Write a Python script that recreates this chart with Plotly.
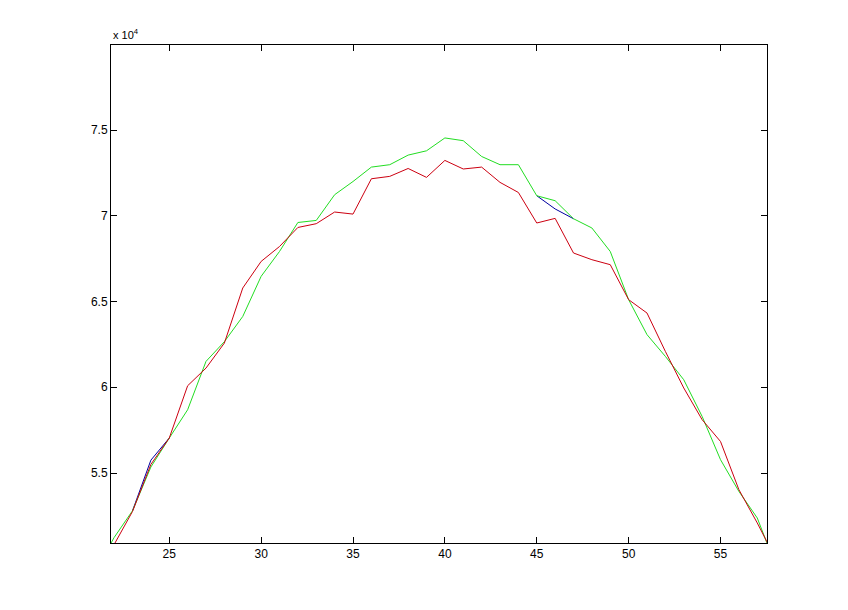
import plotly.graph_objects as go

x_vals = list(range(21, 59))

red_vals = [48900, 50810, 52760, 55500, 57040, 60090, 61120, 62580, 65790, 67340,
            68210, 69320, 69540, 70220, 70100, 72160, 72300, 72760, 72240, 73230,
            72730, 72840, 71950, 71360, 69580, 69850, 67830, 67440, 67150, 65110,
            64330, 62090, 59960, 58110, 56840, 54030, 52090, 50000]

green_vals = [49300, 51240, 52800, 55350, 57040, 58690, 61510, 62660, 64130, 66470,
              67920, 69610, 69730, 71230, 72000, 72840, 72980, 73540, 73790, 74540,
              74380, 73460, 72980, 72980, 71170, 70880, 69830, 69290, 67920, 65110,
              63070, 61800, 60440, 58300, 55780, 53930, 52380, 49600]

blue_x = [23, 24, 25, None, 45, 46, 47]
blue_vals = [52800, 55750, 57040, None, 71170, 70400, 69830]

y_tickvals = [55000, 60000, 65000, 70000, 75000]
y_ticktext = ["5.5", "6", "6.5", "7", "7.5"]
x_tickvals = [25, 30, 35, 40, 45, 50, 55]

fig = go.Figure()
fig.add_trace(go.Scatter(x=blue_x, y=blue_vals, mode="lines",
                         line=dict(color="#0000a0", width=1), connectgaps=False))
fig.add_trace(go.Scatter(x=x_vals, y=green_vals, mode="lines",
                         line=dict(color="#22dd22", width=1)))
fig.add_trace(go.Scatter(x=x_vals, y=red_vals, mode="lines",
                         line=dict(color="#cc0010", width=1)))

axis_common = dict(showgrid=False, zeroline=False, showline=True, linecolor="black",
                   linewidth=1, mirror="ticks", ticks="inside", ticklen=6,
                   tickcolor="black", tickwidth=1,
                   tickfont=dict(family="Liberation Sans", size=12, color="black"))

fig.update_xaxes(range=[21.83, 57.53], tickvals=x_tickvals, **axis_common)
fig.update_yaxes(range=[50920, 79960], tickvals=y_tickvals, ticktext=y_ticktext,
                 **axis_common)

fig.add_annotation(text="x 10<sup>4</sup>", xref="paper", yref="paper", x=0, y=1,
                   xanchor="left", yanchor="bottom", yshift=2, showarrow=False,
                   font=dict(family="Liberation Sans", size=11, color="black"))

fig.update_layout(width=840, height=602, showlegend=False,
                  paper_bgcolor="white", plot_bgcolor="white",
                  margin=dict(l=103, r=81, t=37, b=67))

fig.write_html("out.html")
